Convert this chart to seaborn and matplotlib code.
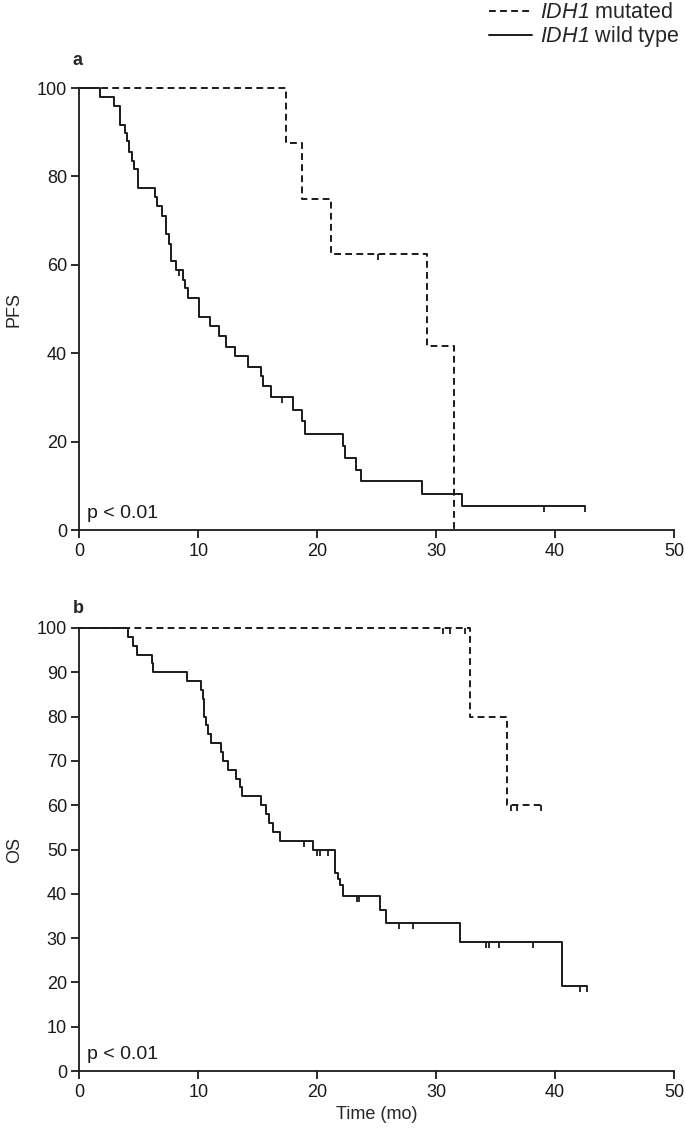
import numpy as np
import pandas as pd
import matplotlib
matplotlib.use("Agg")
import matplotlib.pyplot as plt
from matplotlib.path import Path
import seaborn as sns

# PFS, IDH1 wild type: event times (mo) and survival after each event (%)
pfs_wt_t = [1.73, 2.93, 3.41, 3.83, 4.03, 4.17, 4.45, 4.62, 4.95, 6.36, 6.55, 6.92,
            7.28, 7.51, 7.70, 8.12, 8.74, 8.91, 9.10, 10.06, 11.0, 11.7, 12.36, 13.1,
            14.2, 15.24, 15.43, 16.13, 17.96, 18.74, 18.96, 22.18, 22.32, 23.22, 23.64,
            28.82, 32.13]
pfs_wt_s = [98.0, 95.9, 91.7, 89.8, 87.9, 85.6, 83.6, 81.7, 77.4, 75.3, 73.2, 71.1,
            66.9, 64.8, 60.8, 58.9, 56.6, 54.7, 52.4, 48.3, 46.2, 44.0, 41.5, 39.4,
            36.8, 34.8, 32.5, 30.0, 27.2, 24.6, 21.8, 19.0, 16.2, 13.6, 11.0,
            8.2, 5.5]
pfs_wt_censor = [8.35, 17.0, 39.05, 42.55]
pfs_wt_end = 42.55

# PFS, IDH1 mutated
pfs_mut_t = [17.34, 18.68, 21.12, 29.24, 31.5]
pfs_mut_s = [87.5, 75.0, 62.5, 41.7, 0.0]
pfs_mut_censor = [25.1]
pfs_mut_end = 31.5

# OS, IDH1 wild type
os_wt_t = [4.04, 4.52, 4.80, 6.06, 6.20, 9.06, 10.19, 10.35, 10.49, 10.63, 10.77, 11.05,
           11.9, 12.1, 12.45, 13.15, 13.52, 13.64, 15.26, 15.68, 15.97, 16.3, 16.89,
           19.67, 21.49, 21.72, 21.91, 22.19, 25.28, 25.79, 32.0, 40.6]
os_wt_s = [98, 96, 94, 92, 90, 88, 86, 84, 80, 78, 76, 74,
           72, 70, 68, 66, 64, 62, 60, 58, 56, 54, 52,
           49.8, 44.8, 43.4, 42.1, 39.4, 36.4, 33.4, 29.2, 19.3]
os_wt_censor = [18.86, 19.97, 20.26, 20.87, 23.32, 23.54, 26.91, 28.03,
                34.2, 34.4, 35.25, 38.15, 42.05, 42.7]
os_wt_end = 42.7

# OS, IDH1 mutated
os_mut_t = [32.8, 35.96]
os_mut_s = [80, 60]
os_mut_censor = [30.6, 31.2, 32.4, 36.3, 36.8, 38.8]
os_mut_end = 38.8

sns.set_theme(style="ticks")
plt.rcParams["font.family"] = ["Liberation Sans", "DejaVu Sans"]
# gene name (letters and digit) set in italic via mathtext
plt.rcParams["mathtext.fontset"] = "custom"
plt.rcParams["mathtext.it"] = "Liberation Sans:italic"
plt.rcParams["mathtext.rm"] = "Liberation Sans:italic"

INK = "#1a1a1a"
DASH = (0, (3.5, 2.2))

# tick hanging below the curve for censored cases
censor_mark = Path([[0, 0], [0, -1]], [Path.MOVETO, Path.LINETO])


def km_frame(t, s, end):
    times = [0.0] + list(t) + [end]
    surv = [100.0] + list(s) + [s[-1]]
    return pd.DataFrame({"time": times, "surv": surv})


def draw_curve(ax, t, s, end, censor, dashed):
    df = km_frame(t, s, end)
    sns.lineplot(data=df, x="time", y="surv", ax=ax, estimator=None, sort=False,
                 drawstyle="steps-post", color=INK, linewidth=1.4,
                 linestyle=DASH if dashed else "-", clip_on=False)
    # censor positions take the level of the step they sit on
    idx = np.searchsorted(df["time"].values, censor, side="right") - 1
    cy = df["surv"].values[idx]
    ax.plot(censor, cy, linestyle="none", marker=censor_mark, markersize=9,
            markeredgewidth=1.3, color=INK, clip_on=False)


fig = plt.figure(figsize=(6.85, 11.37), dpi=100)
ax1 = fig.add_axes([0.116, 0.5338, 0.868, 0.3888])
ax2 = fig.add_axes([0.116, 0.0580, 0.868, 0.3897])

draw_curve(ax1, pfs_mut_t, pfs_mut_s, pfs_mut_end, pfs_mut_censor, True)
draw_curve(ax1, pfs_wt_t, pfs_wt_s, pfs_wt_end, pfs_wt_censor, False)
draw_curve(ax2, os_mut_t, os_mut_s, os_mut_end, os_mut_censor, True)
draw_curve(ax2, os_wt_t, os_wt_s, os_wt_end, os_wt_censor, False)

for ax, lab, step in [(ax1, "PFS", 20), (ax2, "OS", 10)]:
    ax.set_xlim(0, 50)
    ax.set_ylim(0, 100)
    ax.set_xticks(range(0, 51, 10))
    ax.set_yticks(range(0, 101, step))
    ax.set_ylabel(lab, fontsize=13, labelpad=10)
    ax.set_xlabel("")
    sns.despine(ax=ax)
    for sp in ax.spines.values():
        sp.set_linewidth(1.3)
        sp.set_color(INK)
    ax.tick_params(direction="out", length=6, width=1.3, labelsize=13,
                   colors=INK, pad=3)
    ax.text(0.012, 0.018, "p < 0.01", transform=ax.transAxes, fontsize=14,
            ha="left", va="bottom", color=INK)

ax2.set_xlabel("Time (mo)", fontsize=13, labelpad=4)

fig.text(0.106, 0.947, "a", fontsize=13, fontweight="bold", ha="left", va="center")
fig.text(0.106, 0.465, "b", fontsize=13, fontweight="bold", ha="left", va="center")

handles = [plt.Line2D([], [], color=INK, lw=1.4, linestyle=DASH),
           plt.Line2D([], [], color=INK, lw=1.4)]
fig.legend(handles, ["$IDH1$ mutated", "$IDH1$ wild type"],
           loc="upper left", bbox_to_anchor=(0.711, 1.0), frameon=False,
           borderpad=0.1, borderaxespad=0, fontsize=15.5, handlelength=2.0,
           handletextpad=0.35, labelspacing=0.05)

fig.savefig("out.png", dpi=100)
